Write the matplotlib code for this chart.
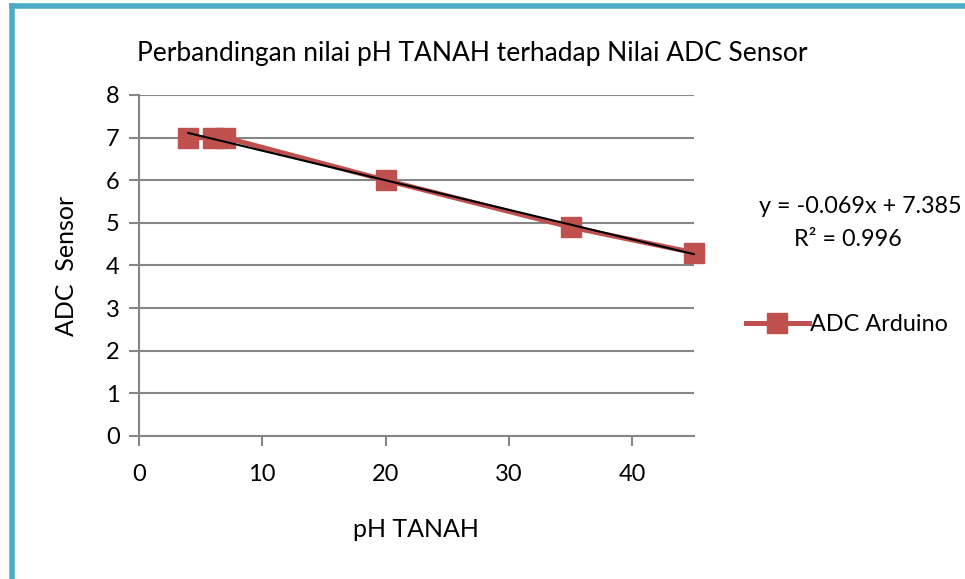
import numpy as np
import matplotlib.pyplot as plt
from matplotlib.lines import Line2D

# data
ph_tanah = [4, 6, 7, 20, 35, 45]
adc_arduino = [7.0, 7.0, 7.0, 6.0, 4.9, 4.3]
x_ticks = [0, 10, 20, 30, 40]
y_ticks = [0, 1, 2, 3, 4, 5, 6, 7, 8]
series_name = "ADC Arduino"
trend_label = "y = -0.069x + 7.385"
r2_label = "R² = 0.996"

FONT = "Lato"
RED = "#C0504D"
GRID = "#868686"

plt.rcParams["font.family"] = [FONT, "DejaVu Sans"]

fig = plt.figure(figsize=(9.65, 5.79), dpi=100)
ax = fig.add_axes([0.144, 0.247, 0.575, 0.589])

ax.plot(ph_tanah, adc_arduino, color=RED, linewidth=3.6, marker="s",
        markersize=14, markeredgecolor=RED, markerfacecolor=RED, zorder=3,
        clip_on=False)

# linear trend line (fitted from the data)
slope, intercept = np.polyfit(ph_tanah, adc_arduino, 1)
xs = np.array([min(ph_tanah), max(ph_tanah)])
ax.plot(xs, slope * xs + intercept, color="black", linewidth=1.5, zorder=4,
        clip_on=False)

ax.set_xlim(0, 45)
ax.set_ylim(0, 8)
ax.set_xticks(x_ticks)
ax.set_yticks(y_ticks)
ax.grid(axis="y", color=GRID, linewidth=1.5)
ax.set_axisbelow(True)
for s in ["top", "right"]:
    ax.spines[s].set_visible(False)
for s in ["left", "bottom"]:
    ax.spines[s].set_color(GRID)
    ax.spines[s].set_linewidth(1.5)
ax.tick_params(axis="both", length=7, width=1.5, color=GRID, labelsize=17)
ax.tick_params(axis="x", pad=13)
ax.tick_params(axis="y", pad=7)

ax.set_xlabel("pH TANAH", fontsize=18, labelpad=24)
ax.set_ylabel("ADC  Sensor", fontsize=18, labelpad=20)
fig.text(0.489, 0.908, "Perbandingan nilai pH TANAH terhadap Nilai ADC Sensor",
         ha="center", va="center", fontsize=19)

fig.text(0.892, 0.643, trend_label, ha="center", va="center", fontsize=16.8)
fig.text(0.879, 0.586, r2_label, ha="center", va="center", fontsize=16.8)

handle = Line2D([], [], color=RED, linewidth=3.6, marker="s", markersize=14)
fig.legend([handle], [series_name], loc="center left",
           bbox_to_anchor=(0.773, 0.44), frameon=False, fontsize=16.8,
           handlelength=2.7, handletextpad=0.05, borderaxespad=0, borderpad=0)

# light blue frame (left and top edges visible)
frame = "#4BACC6"
fig.add_artist(Line2D([0.0124, 0.0124], [0, 0.99], transform=fig.transFigure,
                      color=frame, linewidth=4))
fig.add_artist(Line2D([0.0124, 1.0], [0.99, 0.99], transform=fig.transFigure,
                      color=frame, linewidth=4))

fig.savefig("out.png", dpi=100)
